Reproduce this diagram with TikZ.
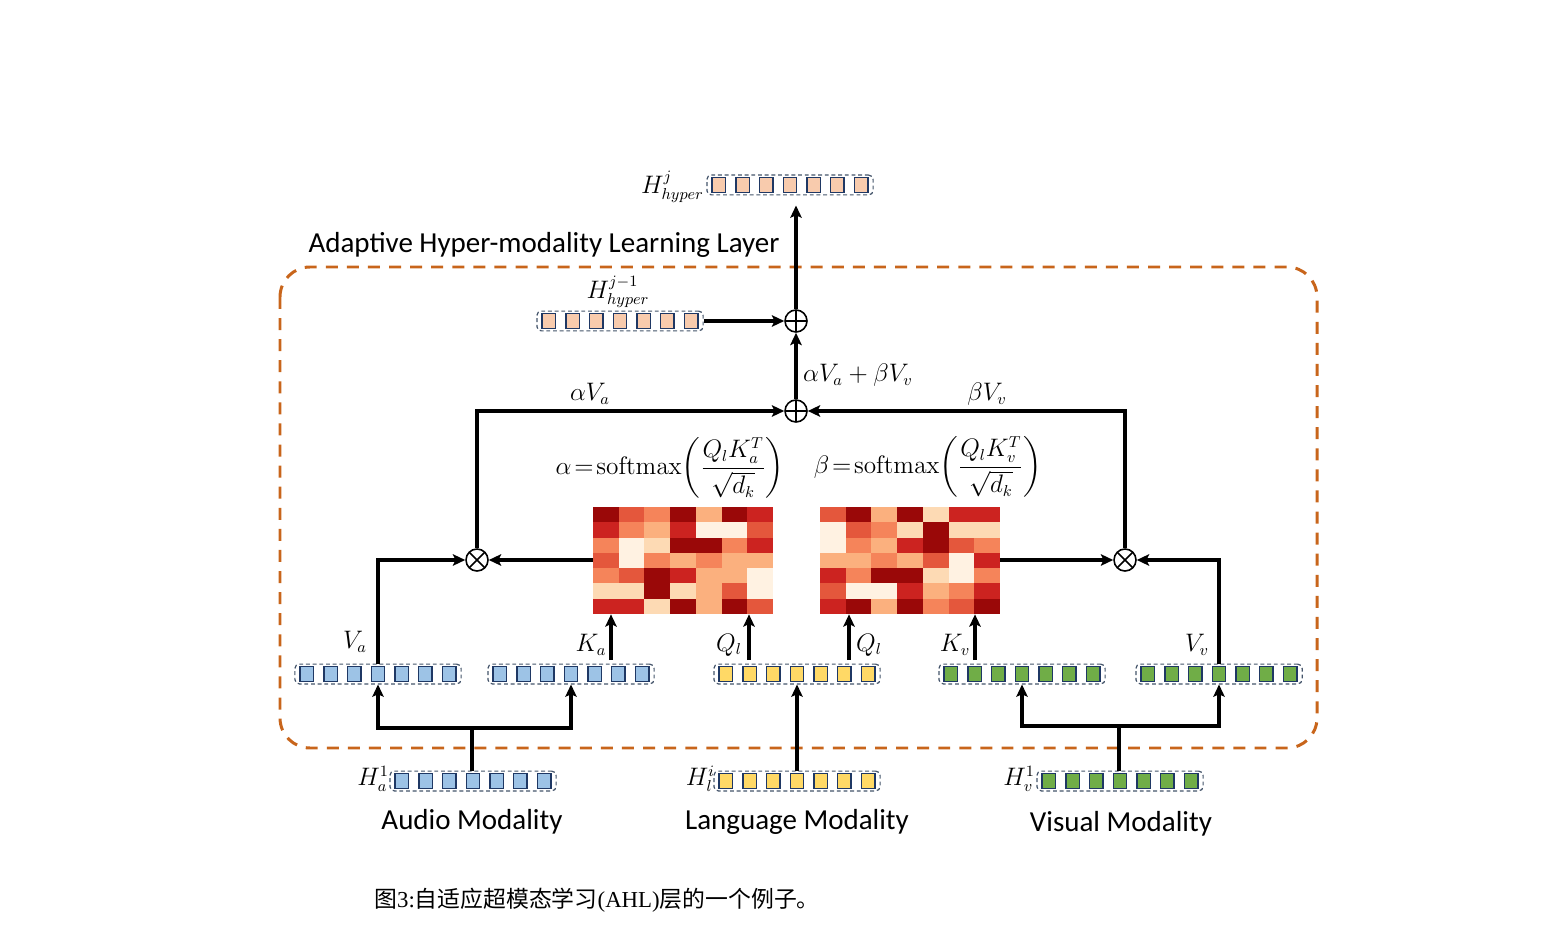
\documentclass[tikz,border=0pt]{standalone}
\usepackage{amsmath}
\usepackage[no-math]{fontspec}
\setmainfont{Carlito}
\newfontfamily\cjk{Noto Sans CJK SC}
\newfontfamily\lserif{Liberation Serif}
\usetikzlibrary{arrows.meta,fit,calc}
\definecolor{layerc}{HTML}{C8651B}
\definecolor{tokline}{HTML}{1F3864}
\definecolor{boxline}{HTML}{44546A}
\definecolor{tblue}{HTML}{9DC3E6}
\definecolor{tyellow}{HTML}{FFD966}
\definecolor{tgreen}{HTML}{70AD47}
\definecolor{tpeach}{HTML}{F8CBAD}
\definecolor{hm0}{HTML}{FFF2E2}
\definecolor{hm1}{HTML}{FDDAB4}
\definecolor{hm2}{HTML}{FBB07E}
\definecolor{hm3}{HTML}{F5845A}
\definecolor{hm4}{HTML}{E4573C}
\definecolor{hm5}{HTML}{CC2320}
\definecolor{hm6}{HTML}{9A0808}
\newcommand{\tokbar}[4]{%
  \foreach \k in {1,...,7}{\node[tok,fill=#4] (#1-\k) at ({#2+(\k-4)*23.7},#3) {};}
  \node[tokbox,fit=(#1-1)(#1-7)] (#1) {};}
\newcommand{\heatmap}[3]{% x0, y0, rows
  \foreach \rowlist [count=\r] in {#3}{%
    \foreach \v [count=\c] in \rowlist {%
      \fill[hm\v] ({#1+(\c-1)*25.714},{#2+(\r-1)*15.286}) rectangle ++(25.9,15.5);}}}
\begin{document}
\begin{tikzpicture}[x=0.02cm,y=-0.02cm,
  tok/.style={rectangle,draw=tokline,line width=0.8pt,minimum width=0.27cm,minimum height=0.29cm,inner sep=0pt},
  tokbox/.style={draw=boxline,dash pattern=on 2.2pt off 1.6pt,line width=0.7pt,rounded corners=2.5pt,inner xsep=2.6pt,inner ysep=1.1pt},
  layer/.style={draw=layerc,line width=1.7pt,dash pattern=on 6.8pt off 5.2pt,rounded corners=0.6cm},
  line/.style={line width=1.8pt},
  conn/.style={line width=1.8pt,-{Stealth[length=7pt,width=6.5pt,inset=1.5pt]}},
  oplus/.style={circle,draw,line width=0.9pt,minimum size=0.44cm,inner sep=0pt,
    path picture={\draw[line width=0.9pt] (path picture bounding box.north) -- (path picture bounding box.south)
      (path picture bounding box.west) -- (path picture bounding box.east);}},
  otimes/.style={circle,draw,line width=0.9pt,minimum size=0.44cm,inner sep=0pt,
    path picture={\draw[line width=0.9pt] ([shift={(45:0.22cm)}]path picture bounding box.center) -- ([shift={(225:0.22cm)}]path picture bounding box.center)
      ([shift={(135:0.22cm)}]path picture bounding box.center) -- ([shift={(315:0.22cm)}]path picture bounding box.center);}},
  hm/.style={rectangle,minimum width=3.6cm,minimum height=2.14cm,inner sep=0pt},
  mlab/.style={font=\fontsize{13.5}{16}\selectfont,inner sep=1pt},
  flab/.style={font=\fontsize{13.5}{16}\selectfont,inner sep=1pt},
  ttl/.style={font=\fontsize{16.5}{19}\selectfont,inner sep=0pt}]
\useasboundingbox (0,0) rectangle (1555,939);

% layer box
\draw[layer] (280,267) rectangle (1317,748);
\node[ttl] (title) at (544,245) {Adaptive Hyper-modality Learning Layer};

% token bars
\tokbar{htop}{790}{185}{tpeach}
\tokbar{hprev}{620}{321}{tpeach}
\tokbar{va}{378}{674}{tblue}
\tokbar{ka}{571}{674}{tblue}
\tokbar{ql}{797}{674}{tyellow}
\tokbar{kv}{1022}{674}{tgreen}
\tokbar{vv}{1219}{674}{tgreen}
\tokbar{ha}{473}{781}{tblue}
\tokbar{hl}{797}{781}{tyellow}
\tokbar{hv}{1120}{781}{tgreen}

% heatmaps
\node[hm] (hmA) at (683,560.5) {};
\node[hm] (hmB) at (910,560.5) {};
\heatmap{593}{507}{{6,4,3,6,2,6,5},{5,3,2,5,0,0,4},{3,0,1,6,6,3,5},{4,0,3,2,3,2,2},{3,4,6,5,2,2,0},{1,1,6,1,2,4,0},{5,5,1,6,2,6,4}}
\heatmap{820}{507}{{4,6,2,6,1,5,5},{0,4,3,1,6,1,1},{0,3,2,5,6,4,3},{2,2,3,2,4,0,5},{5,3,6,6,1,0,3},{4,0,0,5,2,3,5},{5,6,2,6,3,4,6}}

% operators
\node[otimes] (otl) at (477,560) {};
\node[otimes] (otr) at (1125,560) {};
\node[oplus] (opl) at (796,411) {};
\node[oplus] (opu) at (796,321) {};

% bottom splits
\coordinate (asplit) at (472,728);
\draw[line] (ha.north -| asplit) -- (asplit);
\draw[conn] (asplit) -| (va.south);
\draw[conn] (asplit) -| (ka.south);
\draw[conn] (hl.north) -- (ql.south);
\coordinate (vsplit) at (1119,726);
\draw[line] (hv.north -| vsplit) -- (vsplit);
\draw[conn] (vsplit) -| (kv.south);
\draw[conn] (vsplit) -| (vv.south);

% inputs to heatmaps
\coordinate (kaq) at (611,660);
\coordinate (qla) at (749,660);
\coordinate (qlb) at (849,660);
\coordinate (kvk) at (975,660);
\draw[conn] (kaq) -- (kaq |- hmA.south);
\draw[conn] (qla) -- (qla |- hmA.south);
\draw[conn] (qlb) -- (qlb |- hmB.south);
\draw[conn] (kvk) -- (kvk |- hmB.south);

% to otimes
\draw[conn] (hmA.west |- otl) -- (otl.east);
\draw[conn] (va.north) |- (otl.west);
\draw[conn] (hmB.east |- otr) -- (otr.west);
\draw[conn] (vv.north) |- (otr.east);

% to oplus
\draw[conn] (otl.north) |- (opl.west);
\draw[conn] (otr.north) |- (opl.east);
\draw[conn] (opl.north) -- (opu.south);
\draw[conn] (hprev.east) -- (opu.west);
\draw[conn,shorten >=0.2cm] (opu.north) -- (opu.north |- htop.south);

% labels
\node[mlab,anchor=east] (lhtop) at (706,187) {$H^{j}_{hyper}$};
\node[mlab] (lhprev) at (618,292) {$H^{j-1}_{hyper}$};
\node[mlab,anchor=west] (lsum) at (801,375) {$\alpha V_a+\beta V_v$};
\node[mlab] (lav) at (590,394) {$\alpha V_a$};
\node[mlab] (lbv) at (987,394) {$\beta V_v$};
\node[flab] (falpha) at (670,468) {$\alpha\!=\!\mathrm{softmax}\!\left(\dfrac{Q_l K_a^T}{\sqrt{d_k}}\right)$};
\node[flab] (fbeta) at (928,467) {$\beta\!=\!\mathrm{softmax}\!\left(\dfrac{Q_l K_v^T}{\sqrt{d_k}}\right)$};
\node[mlab] (lva) at (355,642) {$V_a$};
\node[mlab] (lka) at (591,645) {$K_a$};
\node[mlab] (lqa) at (729,645) {$Q_l$};
\node[mlab] (lqb) at (869,645) {$Q_l$};
\node[mlab] (lkv) at (955,645) {$K_v$};
\node[mlab] (lvv) at (1197,645) {$V_v$};
\node[mlab,anchor=east] (lha) at (391,779) {$H^1_a$};
\node[mlab,anchor=east] (lhl) at (717,779) {$H^i_l$};
\node[mlab,anchor=east] (lhv) at (1037,779) {$H^1_v$};
\node[ttl] (maud) at (472,822) {Audio Modality};
\node[ttl] (mlang) at (797,822) {Language Modality};
\node[ttl] (mvis) at (1121,824) {Visual Modality};
\node[font=\fontsize{13}{15}\selectfont,inner sep=0pt] (cap) at (597,900) {\cjk 图\lserif 3:\cjk 自适应超模态学习\lserif (AHL)\cjk 层的一个例子。};
\end{tikzpicture}
\end{document}
